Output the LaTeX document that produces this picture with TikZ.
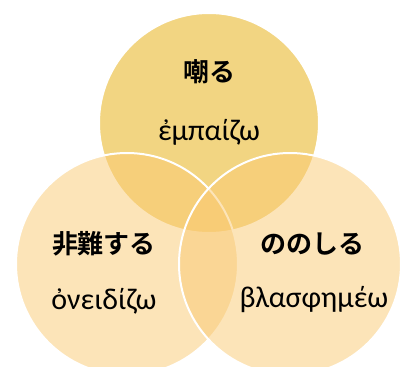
\documentclass[tikz,border=0pt]{standalone}
\usepackage{fontspec}
\setmainfont{Carlito}
\newfontfamily\jpfont{Noto Sans CJK JP}[BoldFont={* Bold}]
\definecolor{topc}{RGB}{242,213,130}
\definecolor{sidec}{RGB}{250,202,115}
\begin{document}
\begin{tikzpicture}[x=1pt,y=1pt,
  circ/.style={draw=white,line width=2pt},
  jp/.style={font=\jpfont\bfseries\fontsize{26}{30}\selectfont,inner sep=0pt},
  gr/.style={font=\fontsize{30}{34}\selectfont,inner sep=0pt}]
\useasboundingbox (0,0) rectangle (402,367);
\fill[white] (0,0) rectangle (402,367);
\filldraw[circ,fill=topc] (209,244) circle[radius=110];
\filldraw[circ,fill=sidec,fill opacity=0.5] (127,103) circle[radius=111];
\filldraw[circ,fill=sidec,fill opacity=0.5] (290,103) circle[radius=111];
\node[jp] (t1) at (209,295) {嘲る};
\node[gr] (t2) at (209,235) {ἐμπαίζω};
\node[jp] (l1) at (104,123) {非難する};
\node[gr] (l2) at (104,66) {ὀνειδίζω};
\node[jp] (r1) at (312,123) {ののしる};
\node[gr] (r2) at (314,67) {βλασφημέω};
\end{tikzpicture}
\end{document}
